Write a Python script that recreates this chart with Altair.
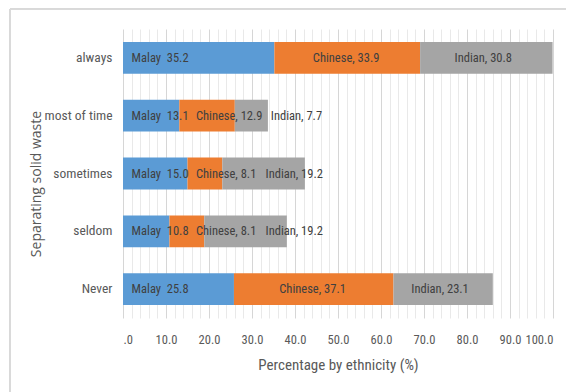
import altair as alt
import pandas as pd

# Share of respondents (%) by ethnicity for each waste-separation frequency
categories = ["always", "most of time", "sometimes", "seldom", "Never"]
malay = [35.2, 13.1, 15.0, 10.8, 25.8]
chinese = [33.9, 12.9, 8.1, 8.1, 37.1]
indian = [30.8, 7.7, 19.2, 19.2, 23.1]
groups = ["Malay", "Chinese", "Indian"]
colors = ["#5B9BD5", "#ED7D31", "#A5A5A5"]
x_ticks = list(range(0, 101, 2))

FONT = "Liberation Sans Narrow, Roboto Condensed, Roboto, sans-serif"
WIDE_FONT = "Open Sans, DejaVu Sans, sans-serif"
W, H = 430, 289
unit_px = W / 100.0
char_px = 5.3
gap = 6.0 / unit_px

# Build segments and place labels so neighbouring labels don't overlap
rows = []
for i, cat in enumerate(categories):
    start = 0.0
    prev_end = None
    for g, vals in zip(groups, [malay, chinese, indian]):
        v = vals[i]
        end = start + v
        if g == "Malay":
            text = f"Malay\u00a0 {v:.1f}"
            w = len(text) * char_px / unit_px
            lx = start + 2.0
        else:
            text = f"{g}, {v:.1f}"
            w = len(text) * char_px / unit_px
            lx = (start + end) / 2 - w / 2
            if prev_end is not None:
                lx = max(lx, prev_end + gap)
        prev_end = lx + w
        rows.append(dict(cat=cat, group=g, value=v, start=start, end=end,
                         label=text, lx=lx))
        start = end

df = pd.DataFrame(rows)

y_enc = alt.Y(
    "cat:N",
    sort=categories,
    scale=alt.Scale(paddingInner=0.45, paddingOuter=0.225),
    axis=alt.Axis(
        title="Separating solid waste",
        domain=False, ticks=False, labelPadding=11,
        labelFontSize=13.5, labelColor="#595959", labelFont=FONT,
        titleFontSize=14, titleFont=WIDE_FONT, titleFontWeight="normal",
        titleColor="#595959", titleX=-87, titleY=154.5,
        titleAngle=270, titleAlign="center", titleBaseline="middle",
    ),
)

bars = alt.Chart(df).mark_bar().encode(
    x=alt.X(
        "start:Q",
        scale=alt.Scale(domain=[0, 100], nice=False),
        axis=alt.Axis(
            values=x_ticks,
            tickCount=len(x_ticks),
            labelExpr="datum.value % 10 === 0 ? (datum.value === 0 ? '.0' : format(datum.value, '.1f')) : ''",
            title="Percentage by ethnicity (%)",
            domain=False, ticks=False, labelPadding=15,
            labelFontSize=12.5, labelColor="#595959", labelFont=FONT,
            titleFontSize=15, titleFont=FONT, titleFontWeight="normal",
            titleColor="#595959", titlePadding=12,
            grid=True,
            gridColor={"condition": {"test": "datum.value % 10 === 0", "value": "#d6d6d6"},
                       "value": "#e9e9e9"},
            labelOverlap=False,
        ),
    ),
    x2="end:Q",
    y=y_enc,
    color=alt.Color("group:N", scale=alt.Scale(domain=groups, range=colors), legend=None),
)

labels = alt.Chart(df).mark_text(
    align="left", baseline="middle", fontSize=12.5, font=FONT, color="#404040"
).encode(
    x="lx:Q",
    y=alt.Y("cat:N", sort=categories),
    text="label:N",
)

# Light outer frame around the chart area
frame_left = alt.Chart(df).mark_rule(color="#d9d9d9").encode(
    x=alt.value(-113), y=alt.value(-20), y2=alt.value(400)
)
frame_top = alt.Chart(df).mark_rule(color="#d9d9d9").encode(
    y=alt.value(-20), x=alt.value(-113), x2=alt.value(460)
)

chart = alt.layer(frame_left, frame_top, bars, labels).properties(
    width=W,
    height=H,
    autosize="none",
    padding={"left": 123, "top": 29, "right": 13, "bottom": 74},
    background="white",
).configure_view(stroke=None)

chart.save("out.html", embed_options={"renderer": "svg", "actions": False})
